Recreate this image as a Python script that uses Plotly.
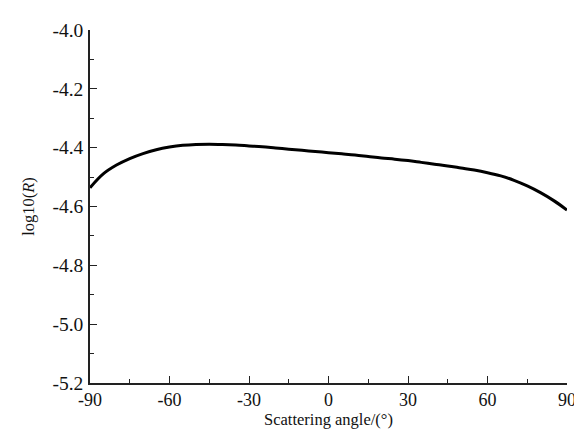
import plotly.graph_objects as go

# Data
angle = [-90, -85, -80, -75, -70, -65, -60, -55, -50, -45, -40, -35, -30, -25, -20, -15,
         -10, -5, 0, 5, 10, 15, 20, 25, 30, 35, 40, 45, 50, 55, 60, 65, 70, 75, 80, 85, 90]
log_r = [-4.536, -4.489, -4.459, -4.437, -4.420, -4.407, -4.398, -4.392, -4.389, -4.388,
         -4.389, -4.391, -4.394, -4.397, -4.401, -4.405, -4.409, -4.413, -4.417, -4.421,
         -4.425, -4.430, -4.435, -4.439, -4.444, -4.450, -4.456, -4.462, -4.469, -4.476,
         -4.485, -4.496, -4.511, -4.530, -4.553, -4.580, -4.612]

x_tick_vals = [-90, -60, -30, 0, 30, 60, 90]
x_tick_text = ["-90", "-60", "-30", "0", "30", "60", "90"]
y_tick_vals = [-5.2, -5.0, -4.8, -4.6, -4.4, -4.2, -4.0]
y_tick_text = ["-5.2", "-5.0", "-4.8", "-4.6", "-4.4", "-4.2", "-4.0"]

FONT = "Liberation Serif"
AX = "#222222"

fig = go.Figure()
fig.add_trace(go.Scatter(x=angle, y=log_r, mode="lines",
                         line=dict(color="black", width=3, shape="spline", smoothing=1.0),
                         showlegend=False, hoverinfo="skip"))

fig.update_layout(
    width=582, height=429,
    margin=dict(l=82, r=23, t=17, b=52),
    paper_bgcolor="white", plot_bgcolor="white",
    font=dict(family=FONT, size=18, color="#111111"),
    xaxis=dict(range=[-90, 90], tickmode="array", tickvals=x_tick_vals, ticktext=x_tick_text,
               ticks="inside", ticklen=7, tickwidth=1.3, tickcolor=AX,
               minor=dict(ticks="inside", ticklen=4, tickwidth=1.3, tickcolor=AX, dtick=15, tick0=-90,
                          showgrid=False),
               showline=True, linecolor=AX, linewidth=1.5, mirror=False,
               showgrid=False, zeroline=False,
               tickfont=dict(family=FONT, size=18, color="#111111"), ticklabelstandoff=0,
               title=dict(text="Scattering angle/(°)", font=dict(family=FONT, size=16.5), standoff=3)),
    yaxis=dict(range=[-5.2, -4.0], tickmode="array", tickvals=y_tick_vals, ticktext=y_tick_text,
               ticks="inside", ticklen=7, tickwidth=1.3, tickcolor=AX,
               minor=dict(ticks="inside", ticklen=4, tickwidth=1.3, tickcolor=AX, dtick=0.1, tick0=-5.2,
                          showgrid=False),
               showline=True, linecolor=AX, linewidth=1.5, mirror=False,
               showgrid=False, zeroline=False,
               tickfont=dict(family=FONT, size=19.5, color="#111111"), ticklabelstandoff=1,
               title=dict(text="log10(<i>R</i>)", font=dict(family=FONT, size=16.5), standoff=14)),
)

fig.write_html("out.html")
